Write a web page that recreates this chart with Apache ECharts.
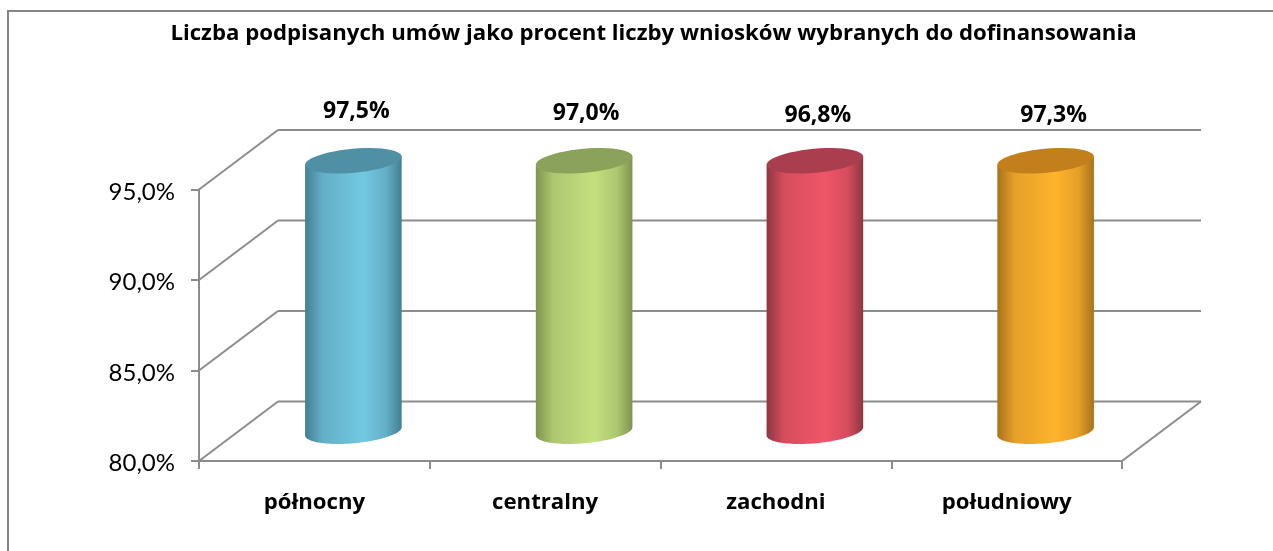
<!DOCTYPE html>
<html><head><meta charset="utf-8">
<style>html,body{margin:0;padding:0;background:#fff}#c{width:1273px;height:551px}</style>
<script src="https://cdn.jsdelivr.net/npm/echarts@6/dist/echarts.min.js"></script>
</head><body><div id="c"></div>
<script>
const regions = ['północny','centralny','zachodni','południowy'];
const shares = [97.5,97.0,96.8,97.3];
const yTicks = [80,85,90,95];
const palette = [
 {edge:'#437f92',low:'#63afc6',mid:'#72c8e2',top:'#4f90a5'},
 {edge:'#7f944f',low:'#adc770',mid:'#c4e07e',top:'#8ba25a'},
 {edge:'#8f3543',low:'#d64d5d',mid:'#f05568',top:'#ab3e4e'},
 {edge:'#a8721a',low:'#e6a028',mid:'#ffb32c',top:'#c27f1c'}
];
const labelLift = [2,4,6,6];
const labelShift = [3,2,3,8];
const BOLD='"Open Sans", sans-serif', REG='Lato, sans-serif';
const DX=79, DY=-59.5, GREY='#8c8c8c';
const yMax=95;
const chart=echarts.init(document.getElementById('c'),null,{renderer:'canvas'});
function ellipse(cx,cy,a,b,rot,from,to){
  const pts=[],n=48;
  for(let i=0;i<=n;i++){
    const t=from+(to-from)*i/n,x=a*Math.cos(t),y=b*Math.sin(t);
    pts.push([cx+x*Math.cos(rot)-y*Math.sin(rot),cy+x*Math.sin(rot)+y*Math.cos(rot)]);
  }
  return pts;
}
function line(x1,y1,x2,y2){
  return {type:'line',shape:{x1,y1,x2,y2},style:{stroke:GREY,lineWidth:2}};
}
chart.setOption({
  animation:false,
  backgroundColor:'#fff',
  title:{text:'Liczba podpisanych umów jako procent liczby wniosków wybranych do dofinansowania',
    left:648.5,top:18,textAlign:'center',
    textStyle:{fontFamily:BOLD,fontSize:22.2,fontWeight:'bold',color:'#000'}},
  graphic:[{type:'polyline',shape:{points:[[8,551],[8,11],[1273,11]]},style:{stroke:'#868686',fill:'none',lineWidth:2},z:-1}],
  grid:{left:199,right:151,top:189.5,bottom:90},
  xAxis:{type:'category',data:regions,
    axisLine:{lineStyle:{color:GREY,width:2}},
    axisTick:{show:true,length:8,alignWithLabel:false,lineStyle:{color:GREY,width:2}},
    axisLabel:{fontFamily:BOLD,fontSize:22.2,fontWeight:'bold',color:'#000',margin:31}},
  yAxis:{type:'value',min:80,max:yMax,interval:5,
    splitLine:{show:false},
    axisLine:{show:true,lineStyle:{color:GREY,width:2}},
    axisTick:{show:true,length:8,lineStyle:{color:GREY,width:2}},
    axisLabel:{color:'#000',margin:24,
      rich:{n:{fontFamily:REG,fontSize:24,color:'#000',padding:[5,0,0,0]}},
      formatter:v=>'{n|'+v.toFixed(1).replace('.',',')+'%}'}},
  series:[
   {type:'custom',coordinateSystem:'cartesian2d',clip:false,z:1,silent:true,
    data:yTicks.map(v=>[0,v]),
    renderItem(p,api){
      const v=api.value(1),a=api.coord([0,v]),cs=p.coordSys;
      const x0=cs.x,x1=cs.x+cs.width,y=a[1];
      const ch=[line(x0,y,x0+DX,y+DY),line(x0+DX,y+DY,x1+DX,y+DY)];
      if(v===80) ch.push(line(x1,y,x1+DX,y+DY));
      return {type:'group',children:ch};
    }},
   {type:'custom',coordinateSystem:'cartesian2d',clip:false,z:2,silent:true,
    encode:{x:0,y:1},
    data:regions.map((r,i)=>[i,shares[i]]),
    renderItem(p,api){
      const i=api.value(0),val=api.value(1),c=palette[i];
      const base=api.coord([i,80]),top=api.coord([i,Math.min(val,yMax)]);
      const cx=base[0]+DX/2-0.5,a=48.5,b=12,rot=-0.09;
      const cyB=base[1]+DY/2,cyT=top[1]+DY/2+1;
      const lower=ellipse(cx,cyB,a,b,rot,Math.PI,0);
      const body=[ellipse(cx,cyT,a,b,rot,Math.PI,Math.PI)[0],...lower,ellipse(cx,cyT,a,b,rot,0,0)[0]];
      return {type:'group',children:[
        {type:'polygon',shape:{points:body},style:{fill:new echarts.graphic.LinearGradient(0,0,1,0,[
          {offset:0,color:c.edge},{offset:0.18,color:c.low},{offset:0.6,color:c.mid},{offset:0.84,color:c.low},{offset:1,color:c.edge}])}},
        {type:'polygon',shape:{points:ellipse(cx,cyT,a,b,rot,0,2*Math.PI)},style:{fill:c.top}},
        {type:'text',x:cx+labelShift[i],y:top[1]-80+labelLift[i],style:{text:val.toFixed(1).replace('.',',')+'%',
          fontFamily:BOLD,fontSize:23,fontWeight:'bold',fill:'#000',textAlign:'center',textVerticalAlign:'middle'}}
      ]};
    }}
  ]
});
</script></body></html>
